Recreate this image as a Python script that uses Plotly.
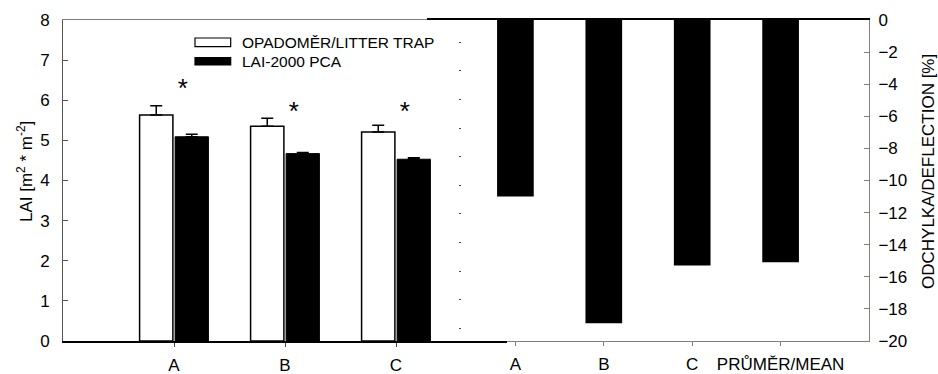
import plotly.graph_objects as go

W, H = 938, 374

# LAI per site: litter trap vs. LAI-2000 PCA (with standard errors)
sites = ["A", "B", "C"]
litter_trap = [5.63, 5.35, 5.21]
litter_trap_err = [0.23, 0.20, 0.17]
lai2000 = [5.09, 4.67, 4.53]
lai2000_err = [0.06, 0.03, 0.04]
star_y = [6.25, 5.68, 5.68]

# Relative deviation of LAI-2000 from the litter trap estimate
dev_cats = ["A", "B", "C", "PRŮMĚR/MEAN"]
deviation = [-11.0, -18.9, -15.3, -15.1]

lai_ticks = list(range(0, 9))
dev_ticks = list(range(-20, 1, 2))
series_names = ["OPADOMĚR/LITTER TRAP", "LAI-2000 PCA"]

FONT = "Liberation Sans, Arial, sans-serif"
GRAY = "#808080"


def px(x):
    return x / W


def py(y):
    return 1 - y / H


site_pos = list(range(len(sites)))
dev_pos = list(range(len(dev_cats)))

fig = go.Figure()

# right panel: deviation bars
fig.add_trace(go.Bar(
    x=dev_pos, y=deviation, xaxis="x", yaxis="y", width=0.415,
    marker=dict(color="black", line=dict(width=0)),
))
# empty trace so the top frame axis of the right panel is drawn
fig.add_trace(go.Scatter(x=[], y=[], xaxis="x3", yaxis="y", hoverinfo="skip"))

# left panel: paired LAI bars
fig.add_trace(go.Bar(
    x=site_pos, y=litter_trap, xaxis="x2", yaxis="y2", name=series_names[0],
    width=0.30, offset=-0.31,
    marker=dict(color="white", line=dict(color="black", width=1.5)),
    error_y=dict(type="data", array=litter_trap_err, arrayminus=[0] * len(sites),
                 symmetric=False, color="black", thickness=1.5, width=6),
))
fig.add_trace(go.Bar(
    x=site_pos, y=lai2000, xaxis="x2", yaxis="y2", name=series_names[1],
    width=0.30, offset=0.01,
    marker=dict(color="black", line=dict(color="black", width=1)),
    error_y=dict(type="data", array=lai2000_err, arrayminus=[0] * len(sites),
                 symmetric=False, color="black", thickness=1.5, width=6),
))
fig.add_trace(go.Scatter(
    x=[p + 0.08 for p in site_pos], y=star_y, xaxis="x2", yaxis="y2",
    mode="text", text=["*"] * len(sites), textposition="middle center",
    textfont=dict(family=FONT, size=26, color="black"),
))
# empty traces so the gray top frame and the dotted tick axis are drawn
fig.add_trace(go.Scatter(x=[], y=[], xaxis="x4", yaxis="y2", hoverinfo="skip"))
fig.add_trace(go.Scatter(x=[], y=[], xaxis="x2", yaxis="y5", hoverinfo="skip"))

dom_y = [py(341), py(20)]
tickfont = dict(family=FONT, size=17, color="black")

fig.update_layout(
    width=W, height=H,
    margin=dict(l=0, r=0, t=0, b=0, pad=0, autoexpand=False),
    paper_bgcolor="white", plot_bgcolor="rgba(0,0,0,0)",
    showlegend=False, barmode="overlay",
    font=dict(family=FONT, color="black"),
    # right panel axes
    xaxis=dict(domain=[px(427), px(869)], range=[-1, 4], anchor="y",
               tickvals=dev_pos, ticktext=dev_cats, ticks="outside", ticklen=4,
               tickcolor=GRAY, showline=True, linecolor=GRAY, linewidth=1,
               showgrid=False, zeroline=False, tickfont=tickfont,
               ticklabelstandoff=4, automargin=False),
    yaxis=dict(domain=dom_y, range=[-20, 0], anchor="x", side="right",
               tickvals=dev_ticks, ticks="inside", ticklen=5, tickcolor=GRAY,
               showline=True, linecolor=GRAY, linewidth=1, showgrid=False,
               zeroline=False, tickfont=tickfont, ticklabelstandoff=5,
               automargin=False),
    xaxis3=dict(overlaying="x", anchor="y", side="top", range=[-1, 4],
                showline=True, linecolor="black", linewidth=2, ticks="",
                showticklabels=False, showgrid=False, zeroline=False,
                automargin=False),
    # left panel axes
    xaxis2=dict(domain=[px(63), px(507)], range=[-1, 3], anchor="y2",
                tickvals=site_pos, ticktext=sites, ticks="outside", ticklen=4,
                tickcolor="#444", showline=True, linecolor="black", linewidth=2,
                showgrid=False, zeroline=False, tickfont=tickfont,
                ticklabelstandoff=4, automargin=False),
    yaxis2=dict(domain=dom_y, range=[0, 8], anchor="x2", side="left",
                tickvals=lai_ticks, ticks="inside", ticklen=5, tickcolor="#555",
                showline=True, linecolor="#555", linewidth=1, showgrid=False,
                zeroline=False, tickfont=tickfont, ticklabelstandoff=9,
                automargin=False),
    xaxis4=dict(domain=[px(63), px(427)], anchor="y2", side="top", range=[0, 1],
                showline=True, linecolor=GRAY, linewidth=1, ticks="",
                showticklabels=False, showgrid=False, zeroline=False,
                automargin=False),
    yaxis5=dict(overlaying="y2", anchor="free", position=px(461), side="left",
                range=[0, 322 / 28.7], tick0=0.4425, dtick=1, ticks="outside",
                ticklen=2, tickcolor="#444", showline=False,
                showticklabels=False, showgrid=False, zeroline=False,
                automargin=False),
)

annotations = [
    dict(text="LAI [m<sup>2</sup> * m<sup>-2</sup>]", x=px(25), y=py(172),
         xref="paper", yref="paper", textangle=-90, showarrow=False,
         xanchor="center", yanchor="middle", font=dict(family=FONT, size=17)),
    dict(text="ODCHYLKA/DEFLECTION [%]", x=px(928), y=py(172),
         xref="paper", yref="paper", textangle=-90, showarrow=False,
         xanchor="center", yanchor="middle", font=dict(family=FONT, size=17)),
]

# legend drawn as swatches with labels
legend_rows = [(38, 46.7, "white"), (57.7, 65, "black")]
shapes = []
for (y0, y1, fill), name in zip(legend_rows, series_names):
    shapes.append(dict(type="rect", xref="paper", yref="paper",
                       x0=px(195), x1=px(230.7), y0=py(y1), y1=py(y0),
                       fillcolor=fill, line=dict(color="black", width=1.2)))
    annotations.append(dict(text=name, x=px(240), y=py((y0 + y1) / 2),
                            xref="paper", yref="paper", showarrow=False,
                            xanchor="left", yanchor="middle",
                            font=dict(family=FONT, size=15.5)))

fig.update_layout(annotations=annotations, shapes=shapes)

fig.write_html("out.html")
